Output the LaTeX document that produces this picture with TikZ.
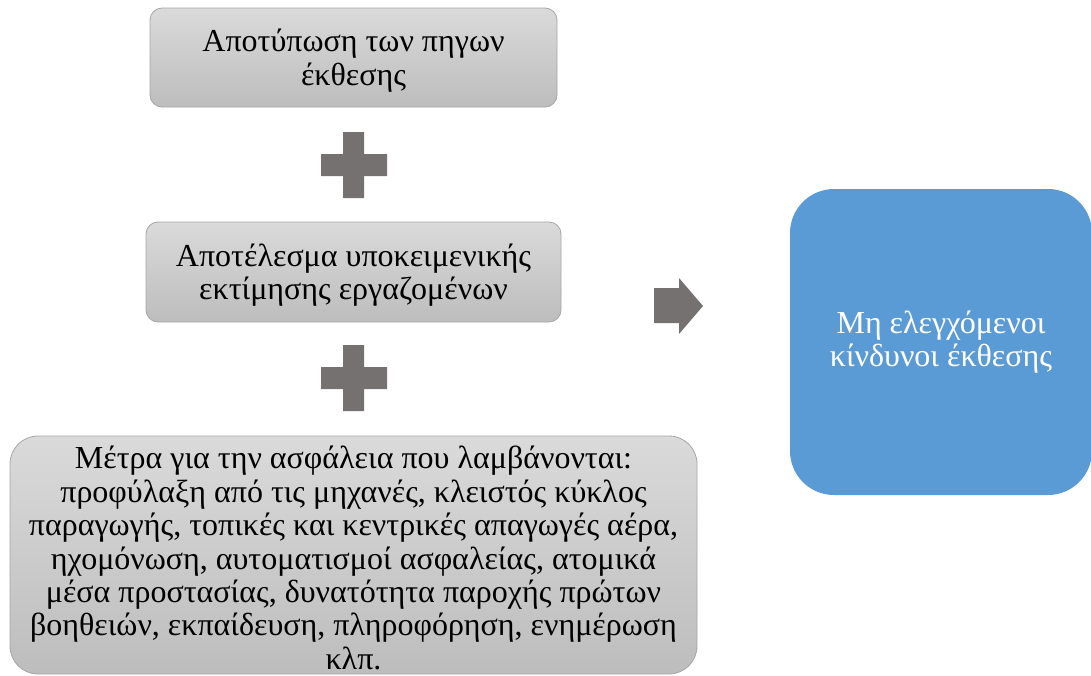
\documentclass[tikz,border=0pt]{standalone}
\usepackage{fontspec}
\setmainfont{Liberation Serif}
\definecolor{boxtop}{HTML}{DADADA}
\definecolor{boxbot}{HTML}{BDBDBD}
\definecolor{boxedge}{HTML}{A6A6A6}
\definecolor{markgray}{HTML}{767171}
\definecolor{resultblue}{HTML}{5B9BD5}
\begin{document}
\begin{tikzpicture}[x=1pt,y=-1pt,
  graybox/.style={draw=boxedge, line width=0.8pt, top color=boxtop, bottom color=boxbot,
    inner sep=0pt},
  boxtext/.style={align=center, inner sep=0pt, yshift=-3pt,
    font=\fontsize{32}{33.4}\selectfont},
  bluebox/.style={fill=resultblue, rounded corners=44pt, align=center, inner sep=0pt,
    text=white, font=\fontsize{32}{32.5}\selectfont},
  marksign/.style={fill=markgray}
]
\useasboundingbox (0,0) rectangle (1091,675);

% sources of exposure
\node[graybox, rounded corners=12pt, minimum width=407pt, minimum height=99pt,
  label={[boxtext]center:Αποτύπωση των πηγων\\έκθεσης}]
  (sources) at (353.5,57.5) {};

% plus between first and second box
\fill[marksign] (343,132) -- (364,132) -- (364,154) -- (387,154) -- (387,176) -- (364,176)
  -- (364,198) -- (343,198) -- (343,176) -- (321,176) -- (321,154) -- (343,154) -- cycle;

% subjective assessment by workers
\node[graybox, rounded corners=12pt, minimum width=415pt, minimum height=100pt,
  label={[boxtext]center:Αποτέλεσμα υποκειμενικής\\εκτίμησης εργαζομένων}]
  (assess) at (353.5,272) {};

% plus between second and third box
\fill[marksign] (343,345) -- (364,345) -- (364,367) -- (387,367) -- (387,389) -- (364,389)
  -- (364,411) -- (343,411) -- (343,389) -- (321,389) -- (321,367) -- (343,367) -- cycle;

% safety measures in place
\node[graybox, rounded corners=28pt, minimum width=687pt, minimum height=238pt,
  label={[boxtext]center:Μέτρα για την ασφάλεια που λαμβάνονται:\\
  προφύλαξη από τις μηχανές, κλειστός κύκλος\\
  παραγωγής, τοπικές και κεντρικές απαγωγές αέρα,\\
  ηχομόνωση, αυτοματισμοί ασφαλείας, ατομικά\\
  μέσα προστασίας, δυνατότητα παροχής πρώτων\\
  βοηθειών, εκπαίδευση, πληροφόρηση, ενημέρωση\\
  κλπ.}]
  (measures) at (353.5,555) {};

% result arrow
\fill[marksign] (654,288) -- (679,288) -- (679,278) -- (703,306) -- (679,334) -- (679,323)
  -- (654,323) -- cycle;

% uncontrolled exposure risks
\node[bluebox, minimum width=302pt, minimum height=306pt]
  (risks) at (941,342) {Μη ελεγχόμενοι\\κίνδυνοι έκθεσης};
\end{tikzpicture}
\end{document}
